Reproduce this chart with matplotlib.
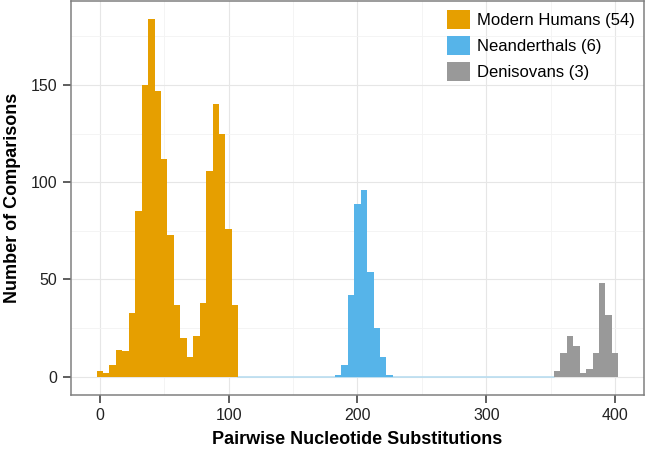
import numpy as np
import matplotlib
matplotlib.use("Agg")
import matplotlib.pyplot as plt
from matplotlib.patches import Patch
from matplotlib.ticker import MultipleLocator

plt.rcParams["font.family"] = ["Liberation Sans", "DejaVu Sans"]

# histogram counts, bin width 5
bin_width = 5
modern_first = 0
modern_counts = [3, 2, 6, 14, 13, 33, 85, 150, 184, 147, 112, 73, 37, 20,
                 10, 21, 38, 106, 140, 125, 76, 37]
neand_first = 185
neand_counts = [1, 6, 42, 89, 96, 54, 25, 10, 1]
deniso_first = 355
deniso_counts = [3, 12, 21, 16, 2, 4, 12, 48, 32, 12]

groups = ["Modern Humans (54)", "Neanderthals (6)", "Denisovans (3)"]
colors = ["#E69F00", "#56B4E9", "#999999"]

fig = plt.figure(figsize=(6.47, 4.49), dpi=100)
ax = fig.add_axes([0.109, 0.121, 0.887, 0.877])

series = [(modern_first, modern_counts), (neand_first, neand_counts),
          (deniso_first, deniso_counts)]
for (first, counts), col in zip(series, colors):
    centers = first + bin_width * np.arange(len(counts))
    ax.bar(centers, counts, width=bin_width, color=col, linewidth=0, zorder=3)

# empty bins between the groups show as a thin line on zero
gap_from = modern_first + bin_width * (len(modern_counts) - 0.5)
gap_to = deniso_first - bin_width / 2
ax.plot([gap_from, gap_to], [0, 0], color="#B9DDF0", lw=1.2, zorder=2)

ax.set_xlim(-22.75, 422.75)
ax.set_ylim(-9.2, 193.2)
ax.xaxis.set_major_locator(MultipleLocator(100))
ax.xaxis.set_minor_locator(MultipleLocator(50))
ax.yaxis.set_major_locator(MultipleLocator(50))
ax.yaxis.set_minor_locator(MultipleLocator(25))
ax.grid(which="major", color="#E6E6E6", lw=0.8, zorder=0)
ax.grid(which="minor", color="#F3F3F3", lw=0.6, zorder=0)
ax.set_axisbelow(True)

for s in ax.spines.values():
    s.set_color("#808080")
    s.set_linewidth(1.1)

ax.tick_params(which="major", length=5.5, width=1.1, color="#333333",
               labelsize=11.5, labelcolor="#222222", pad=4)
ax.tick_params(which="minor", length=0)

ax.set_xlabel("Pairwise Nucleotide Substitutions", fontsize=13,
              fontweight="bold", labelpad=6)
ax.set_ylabel("Number of Comparisons", fontsize=13, fontweight="bold",
              labelpad=7)

handles = [Patch(facecolor=c, edgecolor="none") for c in colors]
ax.legend(handles, groups, loc="upper right", bbox_to_anchor=(1.0, 1.0),
          frameon=False, fontsize=12, handlelength=1.4, handleheight=1.4,
          handletextpad=0.45, labelspacing=0.4, borderaxespad=0.15)

fig.savefig("out.png", dpi=100)
